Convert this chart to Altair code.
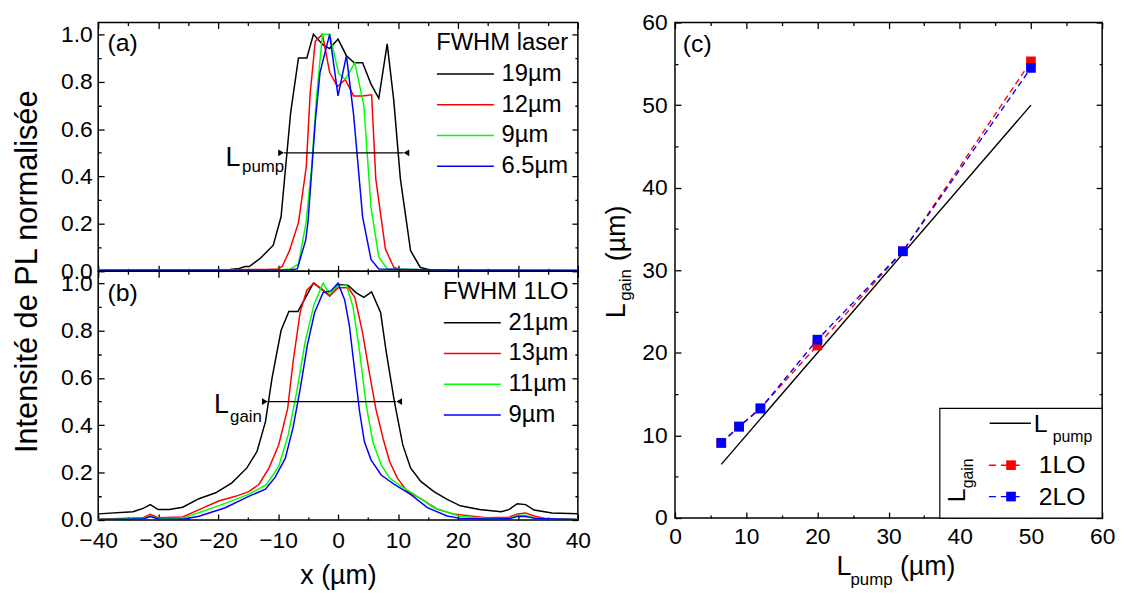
import altair as alt
import pandas as pd

FONT = "Liberation Sans"

# ---------------- Panel (a): FWHM laser ----------------
a_labels = ["19µm", "12µm", "9µm", "6.5µm"]
a19_x = [-40, -30, -22, -18, -16.5, -15.5, -14.8, -12.9, -10.8, -9.5, -7.9, -6.6, -5.2, -4.1, -2.5, -1.4, 0, 1.4, 2.7, 4.1, 5.5, 6.8, 8.2, 9.3, 10.4, 12.1, 13.7, 15.3, 20, 30, 40]
a19_y = [0.004, 0.005, 0.006, 0.008, 0.012, 0.02, 0.02, 0.056, 0.11, 0.23, 0.67, 0.90, 0.90, 1.0, 0.955, 0.94, 0.98, 0.91, 0.88, 0.88, 0.79, 0.73, 0.96, 0.72, 0.39, 0.087, 0.017, 0.006, 0.004, 0.004, 0.003]
a12_x = [-40, -20, -12, -10.1, -9.3, -8.1, -6.6, -5.3, -4.65, -3.8, -2.6, -1.4, -0.1, 1.2, 2.6, 4.1, 5.6, 6.3, 7.9, 9.3, 10.4, 20, 40]
a12_y = [0.004, 0.006, 0.008, 0.01, 0.02, 0.087, 0.205, 0.44, 0.75, 0.97, 1.0, 0.84, 0.78, 0.81, 0.74, 0.74, 0.745, 0.39, 0.094, 0.017, 0.006, 0.004, 0.003]
a9_x = [-40, -20, -9, -7.9, -6.6, -5.3, -4.4, -3.6, -2.6, -1.4, 0.1, 1.2, 2.8, 4.3, 5.5, 6.8, 8.2, 20, 40]
a9_y = [0.003, 0.005, 0.007, 0.01, 0.03, 0.21, 0.44, 0.73, 1.0, 1.0, 0.835, 0.81, 0.88, 0.70, 0.27, 0.06, 0.01, 0.004, 0.003]
a65_x = [-40, -20, -8, -6.8, -5.4, -5.0, -3.8, -3.0, -1.4, 0, 1.4, 2.6, 4.1, 5.5, 6.8, 20, 40]
a65_y = [0.003, 0.004, 0.006, 0.01, 0.13, 0.21, 0.63, 0.84, 1.0, 0.74, 0.91, 0.66, 0.23, 0.05, 0.01, 0.004, 0.003]

# ---------------- Panel (b): FWHM 1LO ----------------
b_labels = ["21µm", "13µm", "11µm", "9µm"]
b21_x = [-40, -34.2, -32.5, -31.3, -30, -28.1, -25.9, -23.2, -20.4, -17.7, -15.2, -13.5, -12.1, -11.0, -9.5, -8.2, -6.7, -5.4, -4.1, -2.7, -1.4, 0, 1.7, 3.0, 4.3, 5.6, 7.1, 8.0, 9.4, 10.8, 12.1, 13.8, 16.0, 18.2, 20.4, 23.6, 27.2, 28.5, 29.9, 31.3, 32.7, 35.7, 40]
b21_y = [0.026, 0.035, 0.049, 0.065, 0.044, 0.044, 0.054, 0.09, 0.115, 0.157, 0.22, 0.29, 0.415, 0.60, 0.80, 0.88, 0.88, 0.94, 1.0, 0.975, 0.946, 0.995, 0.99, 0.96, 0.94, 0.963, 0.876, 0.716, 0.50, 0.317, 0.22, 0.163, 0.12, 0.087, 0.06, 0.044, 0.035, 0.044, 0.069, 0.065, 0.042, 0.03, 0.026]
b13_x = [-40, -32.5, -31.3, -30, -25.9, -22.6, -19.9, -17.1, -14.9, -13.2, -11.5, -9.9, -8.4, -7.5, -6.3, -5.2, -4.0, -2.8, -1.4, 0, 1.7, 2.8, 4.1, 5.2, 6.3, 7.5, 8.6, 9.9, 11.6, 13.8, 16.6, 19.2, 24.7, 28.5, 29.9, 31.3, 32.7, 34.6, 40]
b13_y = [0.003, 0.010, 0.024, 0.01, 0.013, 0.05, 0.08, 0.10, 0.12, 0.15, 0.22, 0.317, 0.47, 0.667, 0.88, 0.97, 1.0, 0.974, 0.946, 0.98, 0.98, 0.94, 0.79, 0.625, 0.47, 0.345, 0.247, 0.177, 0.12, 0.09, 0.045, 0.026, 0.01, 0.012, 0.026, 0.03, 0.017, 0.005, 0.002]
b11_x = [-40, -32.5, -31.3, -30, -25.9, -19.3, -14.9, -11.9, -9.9, -8.3, -6.9, -5.5, -4.0, -2.5, -1.4, 0, 1.4, 2.5, 3.6, 4.7, 5.8, 7.2, 8.6, 10.5, 12.7, 16, 20.4, 25, 28.5, 30, 31.3, 33, 40]
b11_y = [0.002, 0.006, 0.018, 0.006, 0.007, 0.066, 0.108, 0.15, 0.226, 0.36, 0.54, 0.75, 0.91, 1.0, 0.953, 0.99, 0.99, 0.90, 0.71, 0.485, 0.33, 0.233, 0.177, 0.143, 0.108, 0.052, 0.015, 0.006, 0.007, 0.02, 0.02, 0.008, 0.002]
b9_x = [-40, -32.5, -31.3, -30, -25.9, -23.2, -18.8, -14.9, -12.1, -10.5, -8.8, -7.5, -6.3, -5.1, -3.9, -2.5, -1.2, 0, 1.1, 1.9, 2.8, 3.6, 4.4, 5.5, 7.2, 9.4, 12.1, 14.9, 18.2, 20.4, 25, 28.5, 30, 31.3, 33, 40]
b9_y = [0.002, 0.004, 0.015, 0.004, 0.003, 0.016, 0.052, 0.10, 0.13, 0.18, 0.26, 0.39, 0.555, 0.74, 0.876, 0.96, 0.967, 1.0, 0.93, 0.82, 0.625, 0.457, 0.33, 0.254, 0.19, 0.15, 0.108, 0.052, 0.017, 0.007, 0.004, 0.005, 0.016, 0.015, 0.006, 0.002]

profile_colors = ["#000000", "#ff0000", "#00ff00", "#0000ff"]

# ---------------- Panel (c) ----------------
c_pump = [6.5, 9, 12, 20, 32, 50]
c_gain_1lo = [9.1, 11.1, 13.3, 20.9, 32.3, 55.3]
c_gain_2lo = [9.1, 11.05, 13.25, 21.6, 32.3, 54.5]
c_ident = [6.5, 50]

TICK = 6


def long_df(labels, xs, ys):
    rows = []
    for lab, xv, yv in zip(labels, xs, ys):
        for x, y in zip(xv, yv):
            rows.append({"x": x, "y": y, "s": lab})
    return pd.DataFrame(rows)


def tick_dash(major):
    return {"condition": {"test": f"!({major})", "value": [0, TICK / 2, TICK / 2, 40]},
            "value": [40, 0]}


def axis(orient, values, major, labels=False, fmt="datum.label", pad=8, **kw):
    p = dict(orient=orient, values=values, domain=False, grid=False, ticks=True,
             tickSize=TICK, offset=-TICK, tickColor="black", tickWidth=1.3,
             tickDash=tick_dash(major), labels=labels)
    if labels:
        p.update(labelExpr=f"({major}) ? {fmt} : ''", labelFont=FONT, labelFontSize=23,
                 labelColor="black", labelFlush=False, labelOverlap=False, labelPadding=pad)
    if "title" not in kw:
        p["title"] = None
    p.update(kw)
    return alt.Axis(**p)


XMAJ = "datum.value % 10 === 0"
YMAJ = "abs(round(datum.value * 10)) % 2 === 0"
x_vals = list(range(-40, 45, 5))
y_vals = [round(i * 0.1, 1) for i in range(11)]


def txt(x, y, s, size, align="left", baseline="alphabetic", angle=0, xs=None, ys=None, opacity=1):
    d = pd.DataFrame({"x": [x], "y": [y], "t": [s]})
    return alt.Chart(d).mark_text(align=align, baseline=baseline, fontSize=size, font=FONT,
                                  color="black", angle=angle, opacity=opacity).encode(
        x=alt.X("x:Q", scale=xs, axis=None), y=alt.Y("y:Q", scale=ys, axis=None), text="t:N")


def profile_panel(df, labels, ltitle, bottom_labels, arrow, Lpos, subpos, subtxt, tag, tagy, first):
    xs = alt.Scale(domain=[-40, 40], nice=False, zero=False)
    ys = alt.Scale(domain=[0, 1.05], nice=False, zero=False)
    if first:
        left_ax = axis("left", y_vals, YMAJ, labels=True, fmt="format(datum.value, '.1f')", pad=6,
                       title="Intensité de PL normalisée", titleFont=FONT, titleFontSize=31,
                       titleFontWeight="normal", titleColor="black", titleAngle=270,
                       titleAlign="center", titleBaseline="middle", titleX=-77, titleY=251)
    else:
        left_ax = axis("left", y_vals, YMAJ, labels=True, fmt="format(datum.value, '.1f')", pad=6)
    if bottom_labels:
        bot_ax = axis("bottom", x_vals, XMAJ, labels=True, pad=10, title="x (µm)", titleFont=FONT,
                      titleFontSize=27, titleFontWeight="normal", titleColor="black", titlePadding=10)
    else:
        bot_ax = axis("bottom", x_vals, XMAJ)
    base = alt.Chart(df)
    lines = base.mark_line(strokeWidth=1.5, clip=True).encode(
        x=alt.X("x:Q", scale=xs, axis=bot_ax),
        y=alt.Y("y:Q", scale=ys, axis=left_ax),
        color=alt.Color("s:N", scale=alt.Scale(domain=labels, range=profile_colors),
                        legend=alt.Legend(title=ltitle, orient="top-right", offset=9, padding=0,
                                          symbolType="stroke", symbolSize=3300, symbolStrokeWidth=1.5,
                                          clipHeight=24,
                                          labelFont=FONT, labelFontSize=24, labelColor="black",
                                          titleFont=FONT, titleFontSize=24, titleFontWeight="normal",
                                          titleColor="black", labelOffset=7, rowPadding=7,
                                          titlePadding=7)),
    )
    mirror = base.mark_line(opacity=0).encode(
        x=alt.X("x:Q", scale=xs, axis=axis("top", x_vals, XMAJ)),
        y=alt.Y("y:Q", scale=ys, axis=axis("right", y_vals, YMAJ)),
    )
    x1, x2 = arrow
    adf = pd.DataFrame({"x": [x1], "x2": [x2], "y": [0.5]})
    rule = alt.Chart(adf).mark_rule(color="black", strokeWidth=1.2).encode(
        x=alt.X("x:Q", scale=xs, axis=None), x2="x2:Q", y=alt.Y("y:Q", scale=ys, axis=None))
    cl = alt.Chart(pd.DataFrame({"x": [x1 - 0.5], "y": [0.5]})).mark_point(
        shape="triangle-right", filled=True, size=45, color="black", opacity=1).encode(
        x=alt.X("x:Q", scale=xs, axis=None), y=alt.Y("y:Q", scale=ys, axis=None))
    cr = alt.Chart(pd.DataFrame({"x": [x2 + 0.5], "y": [0.5]})).mark_point(
        shape="triangle-left", filled=True, size=45, color="black", opacity=1).encode(
        x=alt.X("x:Q", scale=xs, axis=None), y=alt.Y("y:Q", scale=ys, axis=None))
    tL = txt(Lpos[0], Lpos[1], "L", 27, align="right", xs=xs, ys=ys)
    tS = txt(subpos[0], subpos[1], subtxt, 17, align="left", xs=xs, ys=ys)
    tT = txt(-38.45, tagy, tag, 25, baseline="middle", xs=xs, ys=ys)
    layers = [lines, mirror, rule, cl, cr, tL, tS, tT]
    if first:
        # invisible spacer so that the top of this column lines up with panel (c)
        layers.append(txt(-40, 1.05, "60", 23, align="right", baseline="middle", xs=xs, ys=ys, opacity=0))
    return alt.layer(*layers).resolve_axis(
        x="independent", y="independent").properties(width=484, height=251)


df_a = long_df(a_labels, [a19_x, a12_x, a9_x, a65_x], [a19_y, a12_y, a9_y, a65_y])
df_b = long_df(b_labels, [b21_x, b13_x, b11_x, b9_x], [b21_y, b13_y, b11_y, b9_y])

pa = profile_panel(df_a, a_labels, "FWHM laser", False, (-9.0, 10.9), (-16.3, 0.444), (-16.0, 0.418),
                   "pump", "(a)", 0.9635, True)
pb = profile_panel(df_b, b_labels, "FWHM 1LO", True, (-11.7, 9.7), (-18.2, 0.45), (-18.0, 0.412),
                   "gain", "(b)", 0.957, False)

left = alt.vconcat(pa, pb, spacing=0, bounds="flush").resolve_scale(color="independent").resolve_legend(
    color="independent")

# ---------------- Panel (c) chart ----------------
cxs = alt.Scale(domain=[0, 60], nice=False, zero=False)
cys = alt.Scale(domain=[0, 60], nice=False, zero=False)
c_vals = list(range(0, 65, 5))

df_id = pd.DataFrame({"x": c_ident, "y": c_ident})
ident = alt.Chart(df_id).mark_line(color="black", strokeWidth=1.4).encode(
    x=alt.X("x:Q", scale=cxs, axis=axis("bottom", c_vals, XMAJ, labels=True, pad=8)),
    y=alt.Y("y:Q", scale=cys, axis=axis("left", c_vals, XMAJ, labels=True, pad=8)))
cmirror = alt.Chart(df_id).mark_line(opacity=0).encode(
    x=alt.X("x:Q", scale=cxs, axis=axis("top", c_vals, XMAJ)),
    y=alt.Y("y:Q", scale=cys, axis=axis("right", c_vals, XMAJ)))

df_1 = pd.DataFrame({"x": c_pump, "y": c_gain_1lo})
df_2 = pd.DataFrame({"x": c_pump, "y": c_gain_2lo})


def series(df, color):
    enc = dict(x=alt.X("x:Q", scale=cxs, axis=None), y=alt.Y("y:Q", scale=cys, axis=None))
    ln = alt.Chart(df).mark_line(color=color, strokeWidth=1.4, strokeDash=[6, 4]).encode(**enc)
    pt = alt.Chart(df).mark_square(color=color, size=95, opacity=1, filled=True).encode(**enc)
    return ln, pt


r_ln, r_pt = series(df_1, "#ff0000")
b_ln, b_pt = series(df_2, "#0000ff")

# legend box of (c)
box = alt.Chart(pd.DataFrame({"x": [37.2], "x2": [60], "y": [0], "y2": [13.27]})).mark_rect(
    fill="white", stroke="black", strokeWidth=1.2).encode(
    x=alt.X("x:Q", scale=cxs, axis=None), x2="x2:Q", y=alt.Y("y:Q", scale=cys, axis=None), y2="y2:Q")
leg_line = alt.Chart(pd.DataFrame({"x": [44.2], "x2": [50.0], "y": [11.47]})).mark_rule(
    color="black", strokeWidth=1.4).encode(
    x=alt.X("x:Q", scale=cxs, axis=None), x2="x2:Q", y=alt.Y("y:Q", scale=cys, axis=None))


def leg_entry(y, color):
    d = pd.DataFrame({"x": [44.1], "x2": [49.0], "y": [y]})
    ln = alt.Chart(d).mark_rule(color=color, strokeWidth=1.4, strokeDash=[7, 5]).encode(
        x=alt.X("x:Q", scale=cxs, axis=None), x2="x2:Q", y=alt.Y("y:Q", scale=cys, axis=None))
    pt = alt.Chart(pd.DataFrame({"x": [47.2], "y": [y]})).mark_square(
        color=color, size=95, opacity=1, filled=True).encode(
        x=alt.X("x:Q", scale=cxs, axis=None), y=alt.Y("y:Q", scale=cys, axis=None))
    return ln, pt


l1_ln, l1_pt = leg_entry(6.4, "#ff0000")
l2_ln, l2_pt = leg_entry(2.6, "#0000ff")

c_texts = [
    txt(50.4, 10.43, "L", 25, xs=cxs, ys=cys),
    txt(53.06, 9.23, "pump", 16, xs=cxs, ys=cys),
    txt(51.1, 6.4, "1LO", 25, baseline="middle", xs=cxs, ys=cys),
    txt(51.1, 2.6, "2LO", 25, baseline="middle", xs=cxs, ys=cys),
    txt(40.7, 1.9, "L", 25, angle=270, xs=cxs, ys=cys),
    txt(41.9, 3.6, "gain", 16, angle=270, xs=cxs, ys=cys),
    txt(1.1, 57.35, "(c)", 25, baseline="middle", xs=cxs, ys=cys),
    # x title
    txt(22.7, -6.95, "L", 27, xs=cxs, ys=cys),
    txt(24.65, -8.15, "pump", 17, xs=cxs, ys=cys),
    txt(31.6, -6.95, "(µm)", 27, xs=cxs, ys=cys),
    # y title
    txt(-6.96, 24.2, "L", 27, angle=270, xs=cxs, ys=cys),
    txt(-6.13, 26.3, "gain", 17, angle=270, xs=cxs, ys=cys),
    txt(-6.96, 31.1, "(µm)", 27, angle=270, xs=cxs, ys=cys),
]

pc = alt.layer(ident, cmirror, r_ln, b_ln, r_pt, b_pt, box, leg_line, l1_ln, l2_ln, l1_pt, l2_pt,
               *c_texts).resolve_axis(x="independent", y="independent").properties(width=431, height=500)

chart = alt.hconcat(left, pc, spacing=11).properties(
    padding={"left": 3, "top": 0, "right": 2, "bottom": 2}
).configure_view(stroke="black", strokeWidth=1.5)

chart.save("out.html", embed_options={"renderer": "svg", "actions": False})
